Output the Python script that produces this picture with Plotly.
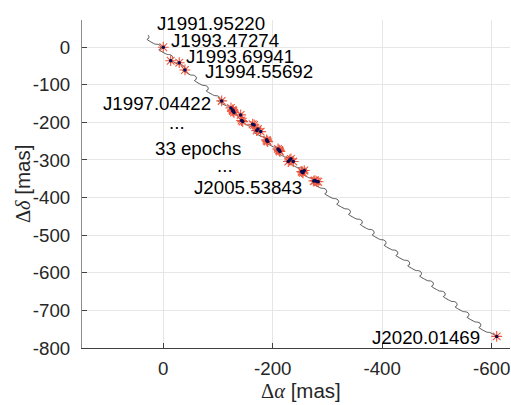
import plotly.graph_objects as go

# ---------------- data ----------------
# observed epochs: offsets in mas
obs_ra = [0.0, -13.5, -29.2, -39.6,
          -106.7, -123.7, -126.8, -129.2, -128.0, -141.4, -145.1, -163.3,
          -170.7, -173.0, -178.0, -188.9, -190.8, -209.6, -211.4, -213.2,
          -212.0, -228.4, -233.3, -237.5, -252.9, -255.3, -257.6, -254.0,
          -280.3, -277.2, -275.0, -166.0, -143.0, -127.0, -189.5, -231.0,
          -283.0,
          -609.2]
obs_dec = [0.0, -35.9, -41.2, -60.6,
           -142.9, -161.5, -166.8, -174.0, -170.0, -180.1, -197.9, -204.8,
           -221.8, -217.3, -224.5, -246.5, -251.1, -270.5, -273.1, -277.6,
           -275.0, -304.2, -297.0, -304.2, -330.8, -334.2, -328.1, -332.0,
           -357.3, -354.7, -356.0, -207.0, -195.0, -169.0, -249.0, -300.0,
           -358.0,
           -769.1]

# model track: cusp tips of the yearly parallax hooks (mas)
tip_ra = [36.7, 15.0, -6.7, -28.3, -50.0, -71.6, -93.3, -114.9, -136.6,
          -158.2, -179.9, -201.5, -223.2, -244.8, -266.5, -288.1, -309.8,
          -331.4, -353.1, -374.7, -396.4, -418.0, -439.7, -461.3, -483.0,
          -504.6, -526.3, -547.9, -569.6, -591.2]
tip_dec = [35.6, 8.2, -19.1, -46.5, -73.8, -101.2, -128.6, -155.9, -183.3,
           -210.6, -238.0, -265.4, -292.7, -320.1, -347.4, -374.8, -402.2,
           -429.5, -456.9, -484.2, -511.6, -539.0, -566.3, -593.7, -621.0,
           -648.4, -675.8, -703.1, -730.5, -757.9]
# shape of one hook relative to its tip (mas)
hook_ra = [0.0, -5.5, -9.1, -10.6, -9.5, -6.9]
hook_dec = [0.0, -0.8, -3.5, -8.0, -12.8, -14.9]

labels = ["J1991.95220", "J1993.47274", "J1993.69941", "J1994.55692",
          "J1997.04422", "...", "33 epochs", "...", "J2005.53843",
          "J2020.01469"]
label_ra = [-86.8, -113.6, -140.1, -174.5, 12.1, -24.5, -63.0, -112.4,
            -155.3, -479.6]
label_dec = [63.5, 18.3, -26.0, -65.9, -149.6, -199.0, -270.5, -315.6,
             -372.7, -772.6]

x_tickvals = [0, -200, -400, -600]
x_ticktext = ["0", "-200", "-400", "-600"]
y_tickvals = [0, -100, -200, -300, -400, -500, -600, -700, -800]
y_ticktext = ["0", "-100", "-200", "-300", "-400", "-500", "-600", "-700", "-800"]

# ---------------- build track ----------------
track_x, track_y = [], []
n = len(tip_ra)
for i in range(n):
    if i == 0:
        idx = range(2, len(hook_ra))
    elif i == n - 1:
        idx = range(0, 3)
    else:
        idx = range(len(hook_ra))
    for k in idx:
        track_x.append(tip_ra[i] + hook_ra[k])
        track_y.append(tip_dec[i] + hook_dec[k])
track_x.append(obs_ra[-1])
track_y.append(obs_dec[-1])

FONT = "Liberation Sans, Arial, sans-serif"

fig = go.Figure()
fig.add_trace(go.Scatter(
    x=track_x, y=track_y, mode="lines",
    line=dict(color="#2a2a2a", width=0.8, shape="spline", smoothing=0.5),
    hoverinfo="skip", showlegend=False))
fig.add_trace(go.Scatter(
    x=obs_ra, y=obs_dec, mode="markers",
    marker=dict(symbol="asterisk-open", size=9,
                line=dict(color="#ff1a1a", width=1.1)),
    showlegend=False))
fig.add_trace(go.Scatter(
    x=obs_ra, y=obs_dec, mode="markers",
    marker=dict(symbol="circle", size=3.5, color="#0a0a50"),
    showlegend=False))

for t, xa, ya in zip(labels, label_ra, label_dec):
    fig.add_annotation(x=xa, y=ya, xref="x", yref="y", text=t,
                       showarrow=False, xanchor="center", yanchor="middle",
                       font=dict(family=FONT, size=18.7, color="#000000"))

greek = "font-family:'Liberation Serif','Times New Roman',serif"
fig.add_annotation(x=0.5107, y=-0.129, xref="paper", yref="paper",
                   text=f"<span style=\"{greek}\">&#916;<i>&#945;</i></span> [mas]",
                   showarrow=False, xanchor="center", yanchor="middle",
                   font=dict(family=FONT, size=20.5, color="#262626"))
fig.add_annotation(x=-0.14, y=0.50, xref="paper", yref="paper",
                   text=f"<span style=\"{greek}\">&#916;<i>&#948;</i></span> [mas]",
                   textangle=-90, showarrow=False, xanchor="center", yanchor="middle",
                   font=dict(family=FONT, size=20.5, color="#262626"))

fig.update_xaxes(range=[148.5, -633.5], tickvals=x_tickvals, ticktext=x_ticktext,
                 showgrid=True, gridcolor="#e6e6e6", gridwidth=1,
                 zeroline=False, showline=True, linecolor="#404040", linewidth=1,
                 ticks="inside", ticklen=5, tickcolor="#404040",
                 tickfont=dict(family=FONT, size=18.7, color="#262626"),
                 ticklabelstandoff=4)
fig.update_yaxes(range=[-800, 72.3], tickvals=y_tickvals, ticktext=y_ticktext,
                 showgrid=True, gridcolor="#e6e6e6", gridwidth=1,
                 zeroline=False, showline=True, linecolor="#8c8c8c", linewidth=1,
                 ticks="inside", ticklen=5, tickcolor="#404040",
                 tickfont=dict(family=FONT, size=18.7, color="#262626"),
                 ticklabelstandoff=7)
fig.update_layout(width=511, height=405, autosize=False,
                  margin=dict(l=82, r=1, t=20, b=56.5, pad=0),
                  paper_bgcolor="white", plot_bgcolor="white",
                  showlegend=False)
fig.write_html("out.html", config={"displayModeBar": False},
               post_script="document.body.style.margin='0px';document.body.style.padding='0px';")
